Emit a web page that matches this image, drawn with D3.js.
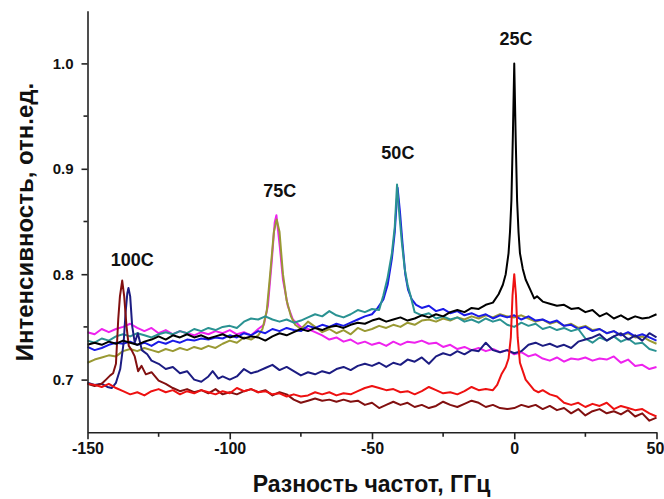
<!DOCTYPE html>
<html>
<head>
<meta charset="utf-8">
<script src="https://cdn.jsdelivr.net/npm/d3@7"></script>
<style>
body{margin:0;background:#fff;}
svg text{font-family:"Liberation Sans",Arial,sans-serif;font-weight:bold;fill:#111;}
.axis path,.axis line{stroke:#222;stroke-width:1.6;}
.trace{fill:none;stroke-width:2;stroke-linejoin:round;}
</style>
</head>
<body>
<div id="chart"></div>
<script>
var w = 664;
var h = 499;
var margin = {top: 10.7, right: 7.5, bottom: 66.7, left: 87.5};

// axis ranges and tick labels
var xMin = -150, xMax = 50;
var yMin = 0.65, yMax = 1.05;
var xTicks = [-150, -100, -50, 0, 50];
var xMinorTicks = [-125, -75, -25, 25];
var yTicks = [0.7, 0.8, 0.9, 1.0];
var yMinorTicks = [0.75, 0.85, 0.95];

var xTitle = "Разность частот, ГГц";
var yTitle = "Интенсивность, отн.ед.";

// peak labels [x, y, text]
var peakLabels = [[-134.3, 0.808, "100C"], [-82.4, 0.873, "75C"], [-40.9, 0.909, "50C"], [0.6, 1.017, "25C"]];

// traces: [frequency difference, intensity]
var magenta75 = [[-150,.745],[-147.5,.743],[-145,.748],[-142.5,.745],[-140,.748],[-137.5,.750],[-135,.753],[-132.5,.749],[-130,.746],[-127.5,.749],[-125,.744],[-122.5,.747],[-120,.743],[-117.5,.746],[-115,.744],[-112.5,.742],[-110,.745],[-107.5,.743],[-105,.746],[-102.5,.744],[-100,.747],[-97.5,.743],[-95,.745],[-92.5,.742],[-90,.748],[-88,.752],[-86.6,.770],[-85.3,.810],[-84.2,.849],[-83.6,.856],[-82.4,.826],[-81.3,.795],[-79.6,.770],[-77.8,.757],[-75,.750],[-72.5,.748],[-70,.745],[-67.5,.742],[-65,.738],[-62.5,.740],[-60,.736],[-57.5,.738],[-55,.734],[-52.5,.736],[-50,.733],[-47.5,.735],[-45,.732],[-42.5,.736],[-40,.733],[-37.5,.736],[-35,.735],[-32.5,.737],[-30,.734],[-27.5,.735],[-25,.731],[-22.5,.733],[-20,.729],[-17.5,.731],[-15,.728],[-12.5,.730],[-10,.727],[-7.5,.729],[-5,.726],[-2.5,.728],[0,.724],[2.5,.726],[5,.722],[7.5,.724],[10,.720],[12.5,.718],[15,.721],[17.5,.717],[20,.720],[22.5,.719],[25,.721],[27.5,.718],[30,.720],[32.5,.719],[35,.722],[37.5,.716],[40,.719],[42.5,.713],[45,.714],[47.5,.710],[50,.712]];

var olive75 = [[-150,.716],[-147.5,.719],[-145,.721],[-142.5,.723],[-140,.722],[-137.5,.727],[-135,.729],[-132.5,.727],[-130,.730],[-127.5,.728],[-125,.726],[-122.5,.729],[-120,.727],[-117.5,.730],[-115,.728],[-112.5,.731],[-110,.729],[-107.5,.732],[-105,.730],[-102.5,.734],[-100,.737],[-97.5,.735],[-95,.740],[-92.5,.738],[-90,.742],[-88.5,.748],[-87,.765],[-85.8,.800],[-84.5,.840],[-83.5,.852],[-82.5,.840],[-81.3,.800],[-80,.775],[-78.5,.760],[-77,.752],[-75,.748],[-72.5,.755],[-70,.750],[-67.5,.745],[-65,.748],[-62.5,.744],[-60,.747],[-57.5,.743],[-55,.749],[-52.5,.746],[-50,.748],[-47.5,.751],[-45,.749],[-42.5,.752],[-40,.750],[-37.5,.754],[-35,.752],[-32.5,.756],[-30,.757],[-27.5,.755],[-25,.758],[-22.5,.756],[-20,.759],[-17.5,.757],[-15,.760],[-12.5,.758],[-10,.761],[-7.5,.759],[-5,.762],[-2.5,.760],[0,.759],[2.5,.761],[5,.758],[7.5,.755],[10,.757],[12.5,.753],[15,.755],[17.5,.751],[20,.753],[22.5,.749],[25,.751],[27.5,.747],[30,.748],[32.5,.744],[35,.746],[37.5,.742],[40,.744],[42.5,.740],[45,.741],[47.5,.737],[50,.734]];

var blue50 = [[-150,.731],[-147.5,.728],[-145,.730],[-142.5,.733],[-140,.735],[-137.5,.734],[-135,.736],[-132.5,.733],[-130,.735],[-127.5,.732],[-125,.736],[-122.5,.734],[-120,.737],[-117.5,.735],[-115,.738],[-112.5,.737],[-110,.739],[-107.5,.738],[-105,.740],[-102.5,.739],[-100,.742],[-97.5,.740],[-95,.744],[-92.5,.742],[-90,.746],[-87.5,.744],[-85,.748],[-82.5,.746],[-80,.749],[-77.5,.747],[-75,.746],[-72.5,.751],[-70,.749],[-67.5,.752],[-65,.750],[-62.5,.753],[-60,.751],[-57.5,.754],[-55,.757],[-52.5,.760],[-50,.762],[-48,.768],[-46,.776],[-44.5,.790],[-43,.815],[-42,.840],[-41,.882],[-40.2,.860],[-39.3,.830],[-38.3,.800],[-37.3,.785],[-36,.776],[-34.5,.771],[-32.5,.768],[-30,.770],[-27.5,.765],[-25,.767],[-22.5,.763],[-20,.765],[-17.5,.761],[-15,.763],[-12.5,.760],[-10,.762],[-7.5,.758],[-5,.761],[-2.5,.759],[0,.761],[2.5,.757],[5,.760],[7.5,.756],[10,.757],[12.5,.754],[15,.756],[17.5,.751],[20,.752],[22.5,.748],[25,.750],[27.5,.746],[30,.748],[32.5,.744],[35,.746],[37.5,.742],[40,.745],[42.5,.741],[45,.743],[47.5,.740],[50,.737]];

var teal50 = [[-150,.737],[-147.5,.735],[-145,.739],[-142.5,.737],[-140,.741],[-137.5,.743],[-135,.741],[-132.5,.744],[-130,.742],[-127.5,.740],[-125,.743],[-122.5,.745],[-120,.743],[-117.5,.746],[-115,.744],[-112.5,.748],[-110,.746],[-107.5,.749],[-105,.747],[-102.5,.750],[-100,.751],[-97.5,.749],[-95,.755],[-92.5,.758],[-90,.757],[-87.5,.760],[-85,.757],[-82.5,.755],[-80,.757],[-77.5,.754],[-75,.756],[-72.5,.759],[-70,.762],[-67.5,.760],[-65,.765],[-62.5,.761],[-60,.759],[-57.5,.762],[-55,.766],[-52.5,.764],[-50,.767],[-47.5,.766],[-46,.780],[-44.5,.797],[-43,.820],[-42,.845],[-41.2,.885],[-40.5,.860],[-39.5,.830],[-38.5,.805],[-37.5,.790],[-36.5,.780],[-35,.764],[-32.5,.761],[-30,.763],[-27.5,.758],[-25,.760],[-22.5,.757],[-20,.759],[-17.5,.755],[-15,.757],[-12.5,.754],[-10,.758],[-7.5,.755],[-5,.757],[-2.5,.752],[0,.750],[2.5,.754],[5,.751],[7.5,.753],[10,.748],[12.5,.750],[15,.747],[17.5,.749],[20,.746],[22.5,.748],[25,.739],[27.5,.735],[30,.740],[32.5,.737],[35,.741],[37.5,.736],[40,.739],[42.5,.734],[45,.735],[47.5,.729],[50,.727]];

var navy100 = [[-150,.697],[-147.5,.695],[-145,.696],[-143,.693],[-141.5,.692],[-140,.697],[-138.5,.710],[-137.3,.735],[-136.6,.764],[-136,.782],[-135.6,.787],[-135,.779],[-134.3,.751],[-133.4,.735],[-132.3,.744],[-130.9,.728],[-129,.724],[-127.5,.718],[-125,.715],[-122.5,.710],[-120,.712],[-117.5,.706],[-115,.708],[-112.5,.700],[-110,.698],[-107.5,.703],[-106,.708],[-104,.701],[-102.5,.703],[-100,.700],[-97.5,.703],[-95,.710],[-92.5,.706],[-90,.708],[-87.5,.711],[-85,.714],[-82.5,.709],[-80,.712],[-77.5,.708],[-75,.704],[-72.5,.707],[-70,.705],[-67.5,.708],[-65,.706],[-62.5,.710],[-60,.712],[-57.5,.709],[-55,.713],[-52.5,.715],[-50,.713],[-47.5,.716],[-45,.712],[-42.5,.716],[-40,.714],[-37.5,.719],[-35,.717],[-32.5,.721],[-30,.715],[-27.5,.722],[-25,.725],[-22.5,.723],[-20,.727],[-17.5,.724],[-15,.728],[-12.5,.727],[-10,.735],[-7.5,.728],[-5,.726],[-2.5,.728],[0,.725],[2.5,.727],[5,.733],[7.5,.735],[10,.732],[12.5,.734],[15,.731],[17.5,.733],[20,.730],[22.5,.736],[25,.738],[27.5,.740],[30,.743],[32.5,.737],[35,.741],[37.5,.744],[40,.738],[42.5,.742],[45,.737],[47.5,.744],[50,.740]];

var maroon100 = [[-150,.696],[-147.5,.694],[-145,.696],[-143.5,.700],[-142,.704],[-141,.706],[-140,.715],[-139.2,.757],[-138.6,.779],[-137.8,.794],[-137.1,.779],[-136.3,.751],[-135.5,.732],[-134.5,.728],[-133.4,.722],[-132.2,.708],[-131,.713],[-129.5,.705],[-127.5,.707],[-125,.699],[-122.5,.696],[-120,.692],[-117.5,.689],[-115,.691],[-112.5,.688],[-110,.690],[-107.5,.687],[-105,.691],[-102.5,.686],[-100,.688],[-97.5,.686],[-95,.689],[-92.5,.691],[-90,.688],[-87.5,.690],[-85,.685],[-82.5,.688],[-80,.686],[-77.5,.681],[-75,.678],[-72.5,.680],[-70,.682],[-67.5,.680],[-65,.681],[-62.5,.679],[-60,.681],[-57.5,.679],[-55,.680],[-52.5,.676],[-50,.678],[-47.5,.673],[-45,.676],[-42.5,.679],[-40,.676],[-37.5,.678],[-35,.674],[-32.5,.676],[-30,.673],[-27.5,.675],[-25,.679],[-22.5,.676],[-20,.674],[-17.5,.677],[-15,.680],[-12.5,.678],[-10,.674],[-7.5,.676],[-5,.673],[-2.5,.672],[0,.673],[2.5,.676],[5,.674],[7.5,.676],[10,.672],[12.5,.675],[15,.671],[17.5,.673],[20,.668],[22.5,.672],[25,.666],[27.5,.670],[30,.672],[32.5,.668],[35,.670],[37.5,.667],[40,.671],[42.5,.665],[45,.668],[47.5,.661],[50,.664]];

var black25 = [[-150,.733],[-147.5,.735],[-145,.733],[-142.5,.736],[-140,.734],[-137.5,.737],[-135,.735],[-132.5,.733],[-130,.736],[-127.5,.738],[-125,.741],[-122.5,.738],[-120,.742],[-117.5,.740],[-115,.743],[-112.5,.740],[-110,.742],[-107.5,.739],[-105,.741],[-102.5,.743],[-100,.740],[-97.5,.742],[-95,.739],[-92.5,.741],[-90,.740],[-87.5,.737],[-85,.741],[-82.5,.744],[-80,.742],[-77.5,.745],[-75,.748],[-72.5,.746],[-70,.749],[-67.5,.747],[-65,.750],[-62.5,.751],[-60,.749],[-57.5,.752],[-55,.754],[-52.5,.753],[-50,.756],[-47.5,.758],[-45,.755],[-42.5,.757],[-40,.759],[-37.5,.756],[-35,.758],[-32.5,.761],[-30,.759],[-27.5,.762],[-25,.760],[-22.5,.764],[-20,.766],[-17.5,.764],[-15,.768],[-12.5,.767],[-10,.771],[-7.5,.773],[-5.5,.781],[-4,.790],[-3,.800],[-2,.820],[-1.5,.840],[-1,.870],[-.5,.930],[0,1.0],[.5,.930],[1,.870],[1.5,.840],[2,.820],[3,.805],[4,.795],[5.5,.786],[7,.777],[8,.779],[10,.774],[12.5,.772],[15,.770],[17.5,.771],[20,.767],[22.5,.768],[25,.764],[27.5,.766],[30,.760],[32.5,.763],[35,.758],[37.5,.761],[40,.757],[42.5,.760],[45,.758],[47.5,.759],[50,.762]];

var red25 = [[-150,.696],[-147.5,.695],[-145,.693],[-142.5,.696],[-140,.692],[-137.5,.689],[-135,.686],[-132.5,.688],[-130,.685],[-127.5,.689],[-125,.691],[-122.5,.688],[-120,.690],[-117.5,.686],[-115,.689],[-112.5,.687],[-110,.690],[-107.5,.688],[-105,.686],[-102.5,.689],[-100,.687],[-97.5,.692],[-95,.689],[-92.5,.691],[-90,.688],[-87.5,.689],[-85,.686],[-82.5,.687],[-80,.684],[-77.5,.686],[-75,.684],[-72.5,.685],[-70,.688],[-67.5,.686],[-65,.688],[-62.5,.685],[-60,.687],[-57.5,.686],[-55,.689],[-52.5,.692],[-50,.694],[-47.5,.692],[-45,.690],[-42.5,.691],[-40,.688],[-37.5,.689],[-35,.686],[-32.5,.689],[-30,.693],[-27.5,.690],[-25,.687],[-22.5,.688],[-20,.686],[-17.5,.689],[-15,.693],[-12.5,.690],[-10,.691],[-7.5,.690],[-6,.695],[-4.5,.705],[-3,.712],[-2,.720],[-1.2,.740],[-.6,.780],[0,.800],[.6,.780],[1.2,.740],[2,.716],[3,.708],[4,.700],[5.5,.695],[7,.690],[8.5,.688],[10,.690],[12.5,.686],[15,.684],[17.5,.678],[20,.676],[22.5,.678],[25,.674],[27.5,.677],[30,.675],[32.5,.678],[35,.672],[37.5,.675],[40,.673],[42.5,.671],[45,.672],[47.5,.668],[50,.665]];

// drawing order, bottom to top
var traces = [magenta75, olive75, blue50, teal50, navy100, maroon100, black25, red25];
var traceColors = ["#ee22ee", "#999933", "#1a1ae6", "#2a9292", "#1c1c82", "#821010", "#000000", "#ee1111"];

var xScale = d3.scaleLinear().domain([xMin, xMax]).range([margin.left, w - margin.right]);
var yScale = d3.scaleLinear().domain([yMin, yMax]).range([h - margin.bottom, margin.top]);

var svg = d3.select("#chart").append("svg")
  .attr("width", w)
  .attr("height", h);

var line = d3.line()
  .x(function(d) { return xScale(d[0]); })
  .y(function(d) { return yScale(d[1]); });

for (var i = 0; i < traces.length; i++) {
  svg.append("path")
    .datum(traces[i])
    .attr("class", "trace")
    .attr("stroke", traceColors[i])
    .attr("d", line);
}

// x axis (plain hyphen minus, like the original)
var gx = svg.append("g")
  .attr("class", "axis")
  .attr("transform", "translate(0," + (h - margin.bottom) + ")");
gx.call(d3.axisBottom(xScale).tickValues(xTicks).tickSize(7).tickSizeOuter(0)
  .tickFormat(function(d) { return String(d); }));
gx.selectAll("text").style("font-size", "16px");
gx.selectAll(".tick:last-of-type text").attr("dx", -1.5);
gx.selectAll(".minor").data(xMinorTicks).enter().append("line")
  .attr("class", "minor")
  .attr("x1", function(d) { return xScale(d); })
  .attr("x2", function(d) { return xScale(d); })
  .attr("y1", 0).attr("y2", 4.5);

// y axis
var gy = svg.append("g")
  .attr("class", "axis")
  .attr("transform", "translate(" + margin.left + ",0)");
gy.call(d3.axisLeft(yScale).tickValues(yTicks).tickSize(6).tickSizeOuter(0).tickFormat(d3.format(".1f")));
gy.selectAll("text").attr("x", -14).style("font-size", "15px");
gy.selectAll(".minor").data(yMinorTicks).enter().append("line")
  .attr("class", "minor")
  .attr("y1", function(d) { return yScale(d); })
  .attr("y2", function(d) { return yScale(d); })
  .attr("x1", 0).attr("x2", -4);
svg.selectAll(".axis").attr("font-family", null).attr("font-size", null);

// axis titles
svg.append("text")
  .attr("x", (margin.left + w - margin.right) / 2 - 0.5)
  .attr("y", 492)
  .style("text-anchor", "middle")
  .style("font-size", "23px")
  .text(xTitle);

svg.append("text")
  .attr("transform", "translate(33," + 222 + ") rotate(-90)")
  .style("text-anchor", "middle")
  .style("font-size", "24px")
  .text(yTitle);

// peak labels
svg.selectAll(".peak").data(peakLabels).enter().append("text")
  .attr("class", "peak")
  .attr("x", function(d) { return xScale(d[0]); })
  .attr("y", function(d) { return yScale(d[1]); })
  .style("text-anchor", "middle")
  .style("font-size", "18px")
  .text(function(d) { return d[2]; });
</script>
</body>
</html>
